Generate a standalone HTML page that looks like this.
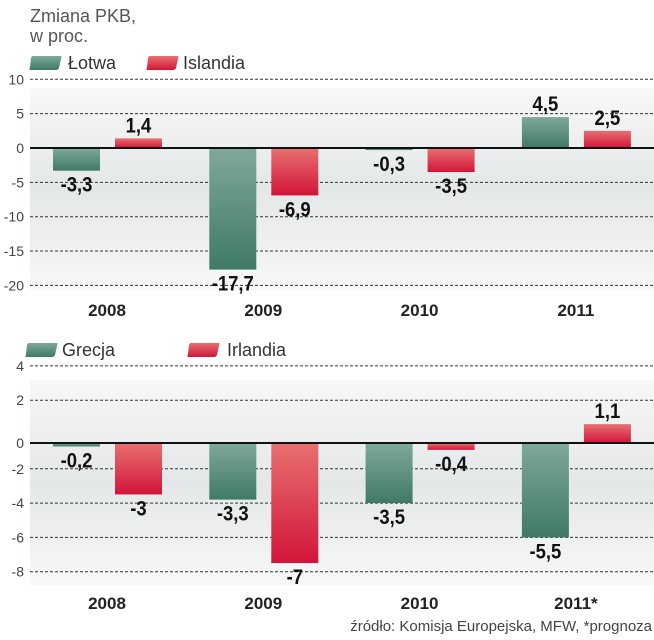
<!DOCTYPE html>
<html><head><meta charset="utf-8"><style>
body{margin:0;background:#fff}
svg{display:block;font-family:"Liberation Sans",sans-serif}
</style></head><body>
<svg id="c" width="654" height="640" viewBox="0 0 654 640">
<defs>
<linearGradient id="bg" x1="0" y1="0" x2="0" y2="1"><stop offset="0" stop-color="#f7f8f8"/><stop offset="0.5" stop-color="#e4e7e8"/><stop offset="1" stop-color="#f7f8f8"/></linearGradient>
<linearGradient id="gr" x1="0" y1="0" x2="0" y2="1"><stop offset="0" stop-color="#7fa89b"/><stop offset="1" stop-color="#3f7a66"/></linearGradient>
<linearGradient id="rd" x1="0" y1="0" x2="0" y2="1"><stop offset="0" stop-color="#e87070"/><stop offset="1" stop-color="#d2153a"/></linearGradient>
</defs>
<text x="30" y="22" font-size="18" fill="#555">Zmiana PKB,</text>
<text x="30" y="42" font-size="18" fill="#555">w proc.</text>
<text x="652" y="631" font-size="15" fill="#444" text-anchor="end">źródło: Komisja Europejska, MFW, *prognoza</text>
<g id="top"></g><g id="bot"></g>
</svg>
<script>
const years1=["2008","2009","2010","2011"];
const lotwa=[-3.3,-17.7,-0.3,4.5];
const islandia=[1.4,-6.9,-3.5,2.5];
const labLotwa=["-3,3","-17,7","-0,3","4,5"];
const labIslandia=["1,4","-6,9","-3,5","2,5"];
const ticks1=[10,5,0,-5,-10,-15,-20];
const years2=["2008","2009","2010","2011*"];
const grecja=[-0.2,-3.3,-3.5,-5.5];
const irlandia=[-3,-7,-0.4,1.1];
const labGrecja=["-0,2","-3,3","-3,5","-5,5"];
const labIrlandia=["-3","-7","-0,4","1,1"];
const ticks2=[4,2,0,-2,-4,-6,-8];
const NS="http://www.w3.org/2000/svg";
function mk(p,t,a){const e=document.createElementNS(NS,t);for(const k in a)e.setAttribute(k,a[k]);p.appendChild(e);return e;}
function draw(gid,cfg){
 const g=document.getElementById(gid);
 const y=v=>cfg.zero-v*cfg.k;
 const gy=v=>v===0?y(0):y(v)+cfg.gridOff;
 const bgr=mk(g,'rect',{x:30,y:cfg.bgTop,width:624,height:cfg.bgH,fill:'url(#bg)'});
 
 
 const lg=[[cfg.n1,'url(#gr)',cfg.lx1,cfg.tx1],[cfg.n2,'url(#rd)',cfg.lx2,cfg.tx2]];
 lg.forEach(l=>{
  const x=l[2],yy=cfg.ly-12;
  const r=mk(g,'path',{d:`M${x+3} ${yy} H${x+31} Q${x+32} ${yy} ${x+31} ${yy+3} L${x+29} ${yy+12} Q${x+28} ${yy+14} ${x+26} ${yy+14} H${x} Q${x-1} ${yy+14} ${x} ${yy+11} L${x+1} ${yy+2} Q${x+1.5} ${yy} ${x+3} ${yy}Z`,fill:l[1]});
  
  
  const t=mk(g,'text',{x:l[3],y:cfg.ly+1,'font-size':18,fill:'#333'});t.textContent=l[0];
  
  
 });
 cfg.ticks.forEach(v=>{
  const yy=gy(v);
  if(v!==0){const ln=mk(g,'line',{x1:30,x2:654,y1:yy,y2:yy,stroke:'#333','stroke-width':1,'stroke-dasharray':'3,2'});
   
   }
  const t=mk(g,'text',{x:24,y:yy+5,'font-size':14,fill:'#444','text-anchor':'end'});t.textContent=String(v);
  
  
 });
 const bw=47;
 cfg.cats.forEach((c,i)=>{
  const x0=53+i*156.3;
  [[cfg.s1[i],cfg.l1[i],'url(#gr)',x0],[cfg.s2[i],cfg.l2[i],'url(#rd)',x0+62]].forEach(b=>{
   const v=b[0],top=Math.min(y(v),y(0)),h=Math.abs(y(v)-y(0));
   const r=mk(g,'rect',{x:b[3],y:top,width:bw,height:Math.max(h,2),fill:b[2]});
   
   
   const ty=v>=0?y(v)-6:y(v)+21;
   const t=mk(g,'text',{x:b[3]+bw/2,y:ty,'font-size':21,'font-weight':'bold',fill:'#111','text-anchor':'middle',transform:`translate(${(b[3]+bw/2)*0.12} 0) scale(0.88 1)`});
   t.textContent=b[1];
   
   
  });
  const t=mk(g,'text',{x:x0+54,y:cfg.catY,'font-size':17,'font-weight':'bold',fill:'#222','text-anchor':'middle'});t.textContent=c;
  
  
 });
 const z=mk(g,'line',{x1:30,x2:654,y1:y(0),y2:y(0),stroke:'#111','stroke-width':2});
 
 
}
draw('top',{zero:148,k:6.87,gridOff:0,bgTop:88,bgH:202,ticks:ticks1,cats:years1,s1:lotwa,s2:islandia,l1:labLotwa,l2:labIslandia,n1:'Łotwa',n2:'Islandia',lx1:30,tx1:68,lx2:147,tx2:183,ly:68,catY:316});
draw('bot',{zero:443,k:17.15,gridOff:-8.5,bgTop:380,bgH:205,ticks:ticks2,cats:years2,s1:grecja,s2:irlandia,l1:labGrecja,l2:labIrlandia,n1:'Grecja',n2:'Irlandia',lx1:26,tx1:62,lx2:188,tx2:227,ly:355,catY:609});
</script>
</body></html>
